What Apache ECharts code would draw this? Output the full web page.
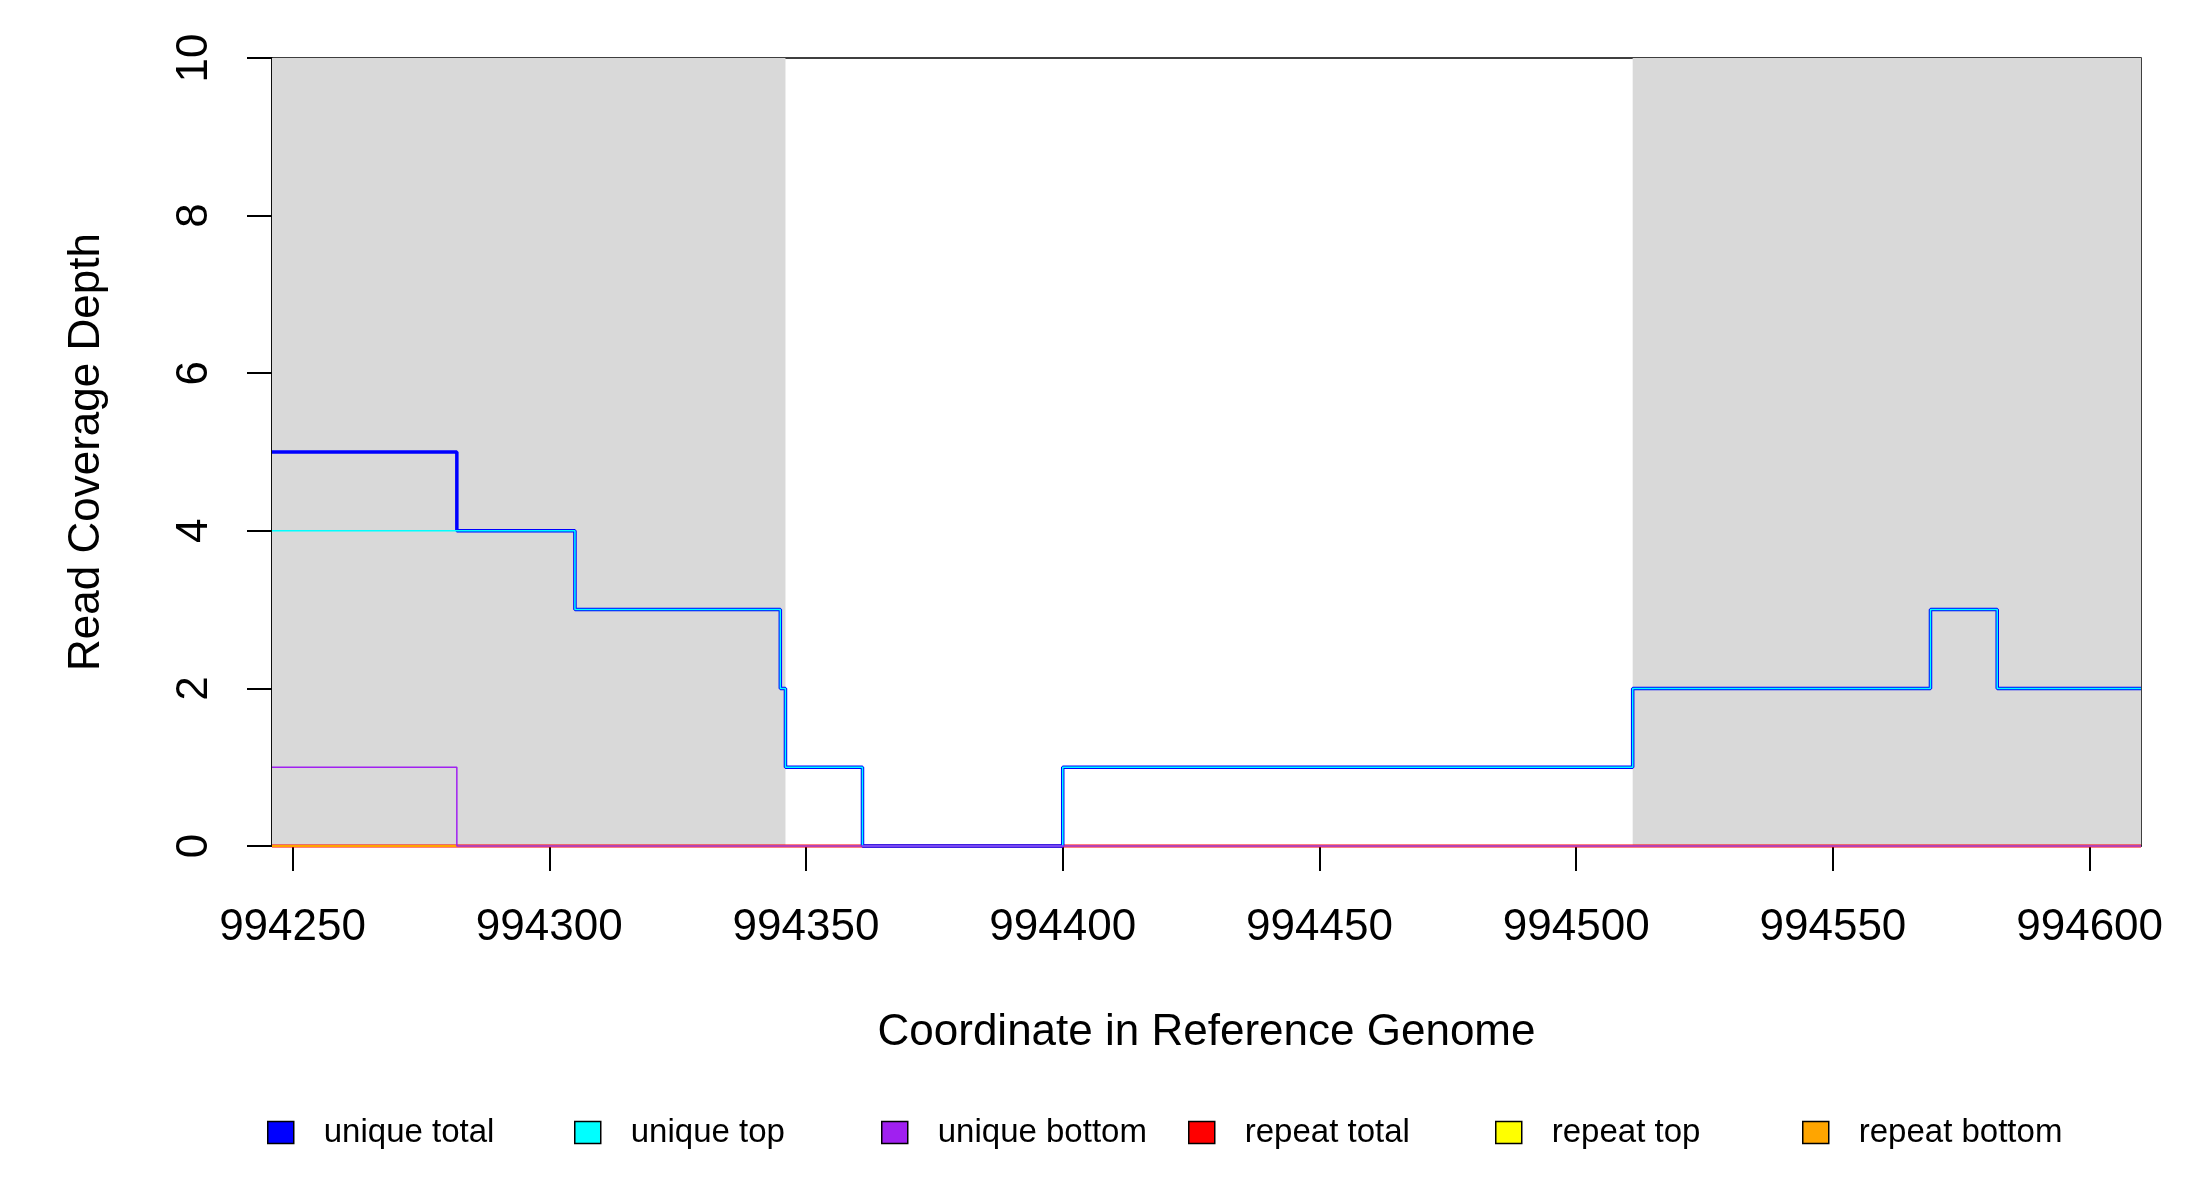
<!DOCTYPE html>
<html>
<head>
<meta charset="utf-8">
<script src="https://cdn.jsdelivr.net/npm/echarts@6/dist/echarts.min.js"></script>
<style>
  html, body { margin: 0; padding: 0; background: #fff; }
  #main { width: 2200px; height: 1200px; }
</style>
</head>
<body>
<div id="main"></div>
<script>
// segment start positions (last entry = right end of the window)
const breaks = [994246, 994282, 994305, 994345, 994346, 994361, 994400, 994511, 994569, 994582, 994610];
// coverage value held from breaks[i] to breaks[i+1]
const uniqueTotal  = [5, 4, 3, 2, 1, 0, 1, 2, 3, 2];
const uniqueTop    = [4, 4, 3, 2, 1, 0, 1, 2, 3, 2];
const uniqueBottom = [1, 0, 0, 0, 0, 0, 0, 0, 0, 0];
const repeatTotal  = [0, 0, 0, 0, 0, 0, 0, 0, 0, 0];
const repeatTop    = [0, 0, 0, 0, 0, 0, 0, 0, 0, 0];
const repeatBottom = [0, 0, 0, 0, 0, 0, 0, 0, 0, 0];

// grey shaded windows
const shadedRegions = [[994246, 994346], [994511, 994610]];

const xTicks = [994250, 994300, 994350, 994400, 994450, 994500, 994550, 994600];
const yTicks = [0, 2, 4, 6, 8, 10];

const names = ['unique total', 'unique top', 'unique bottom', 'repeat total', 'repeat top', 'repeat bottom'];
const colors = ['#0000FF', '#00FFFF', '#A020F0', '#FF0000', '#FFFF00', '#FFA500'];

const font = "'Liberation Sans', Arial, sans-serif";

function steps(vals) {
  const pts = vals.map((v, i) => [breaks[i], v]);
  pts.push([breaks[breaks.length - 1], vals[vals.length - 1]]);
  return pts;
}

function lineSeries(name, vals, color, width, z) {
  return {
    name: name,
    type: 'line',
    step: 'end',
    data: steps(vals),
    showSymbol: false,
    clip: false,
    z: z,
    color: color,
    lineStyle: { color: color, width: width },
    emphasis: { disabled: true },
    silent: true
  };
}

const series = [
  lineSeries('repeat total', repeatTotal, colors[3], 3, 3),
  lineSeries('repeat top', repeatTop, colors[4], 2, 4),
  lineSeries('repeat bottom', repeatBottom, colors[5], 2, 5),
  lineSeries('unique total', uniqueTotal, colors[0], 3.5, 6),
  lineSeries('unique top', uniqueTop, colors[1], 1.5, 7),
  lineSeries('unique bottom', uniqueBottom, colors[2], 1.5, 8)
];
series[0].markArea = {
  silent: true,
  itemStyle: { color: '#D9D9D9' },
  data: shadedRegions.map(r => [{ xAxis: r[0] }, { xAxis: r[1] }])
};

// one legend per column so the items sit on an even grid like R's legend()
const legends = names.map((n, i) => ({
  data: [n],
  left: 262 + 307 * i,
  top: 1111,
  icon: 'rect',
  itemWidth: 26,
  itemHeight: 22,
  itemStyle: { borderColor: '#000', borderWidth: 1.5 },
  lineStyle: { opacity: 0 },
  selectedMode: false,
  textStyle: { fontFamily: font, fontSize: 33, color: '#000', padding: [0, 0, 0, 25] }
}));

const chart = echarts.init(document.getElementById('main'));
chart.setOption({
  animation: false,
  backgroundColor: '#fff',
  grid: {
    left: 272, right: 59, top: 58, bottom: 354,
    show: true, borderColor: '#000', borderWidth: 1.5, backgroundColor: 'transparent'
  },
  legend: legends,
  xAxis: {
    type: 'value',
    min: breaks[0],
    max: breaks[breaks.length - 1],
    name: 'Coordinate in Reference Genome',
    nameLocation: 'middle',
    nameGap: 165,
    nameTextStyle: { fontFamily: font, fontSize: 44, color: '#000' },
    axisLine: { show: true, lineStyle: { color: '#000', width: 1.5 } },
    axisTick: { show: true, length: 25, customValues: xTicks, lineStyle: { color: '#000', width: 2 } },
    axisLabel: {
      customValues: xTicks,
      margin: 60,
      fontFamily: font, fontSize: 44, color: '#000',
      formatter: v => String(v)
    },
    splitLine: { show: false }
  },
  yAxis: {
    type: 'value',
    min: 0,
    max: 10,
    interval: 2,
    name: 'Read Coverage Depth',
    nameLocation: 'middle',
    nameGap: 163,
    nameTextStyle: { fontFamily: font, fontSize: 44, color: '#000' },
    axisLine: { show: true, lineStyle: { color: '#000', width: 1.5 } },
    axisTick: { show: true, length: 25, customValues: yTicks, lineStyle: { color: '#000', width: 2 } },
    axisLabel: {
      customValues: yTicks,
      rotate: 90,
      margin: 55,
      fontFamily: font, fontSize: 44, color: '#000',
      formatter: v => String(v)
    },
    splitLine: { show: false }
  },
  series: series
});
</script>
</body>
</html>
